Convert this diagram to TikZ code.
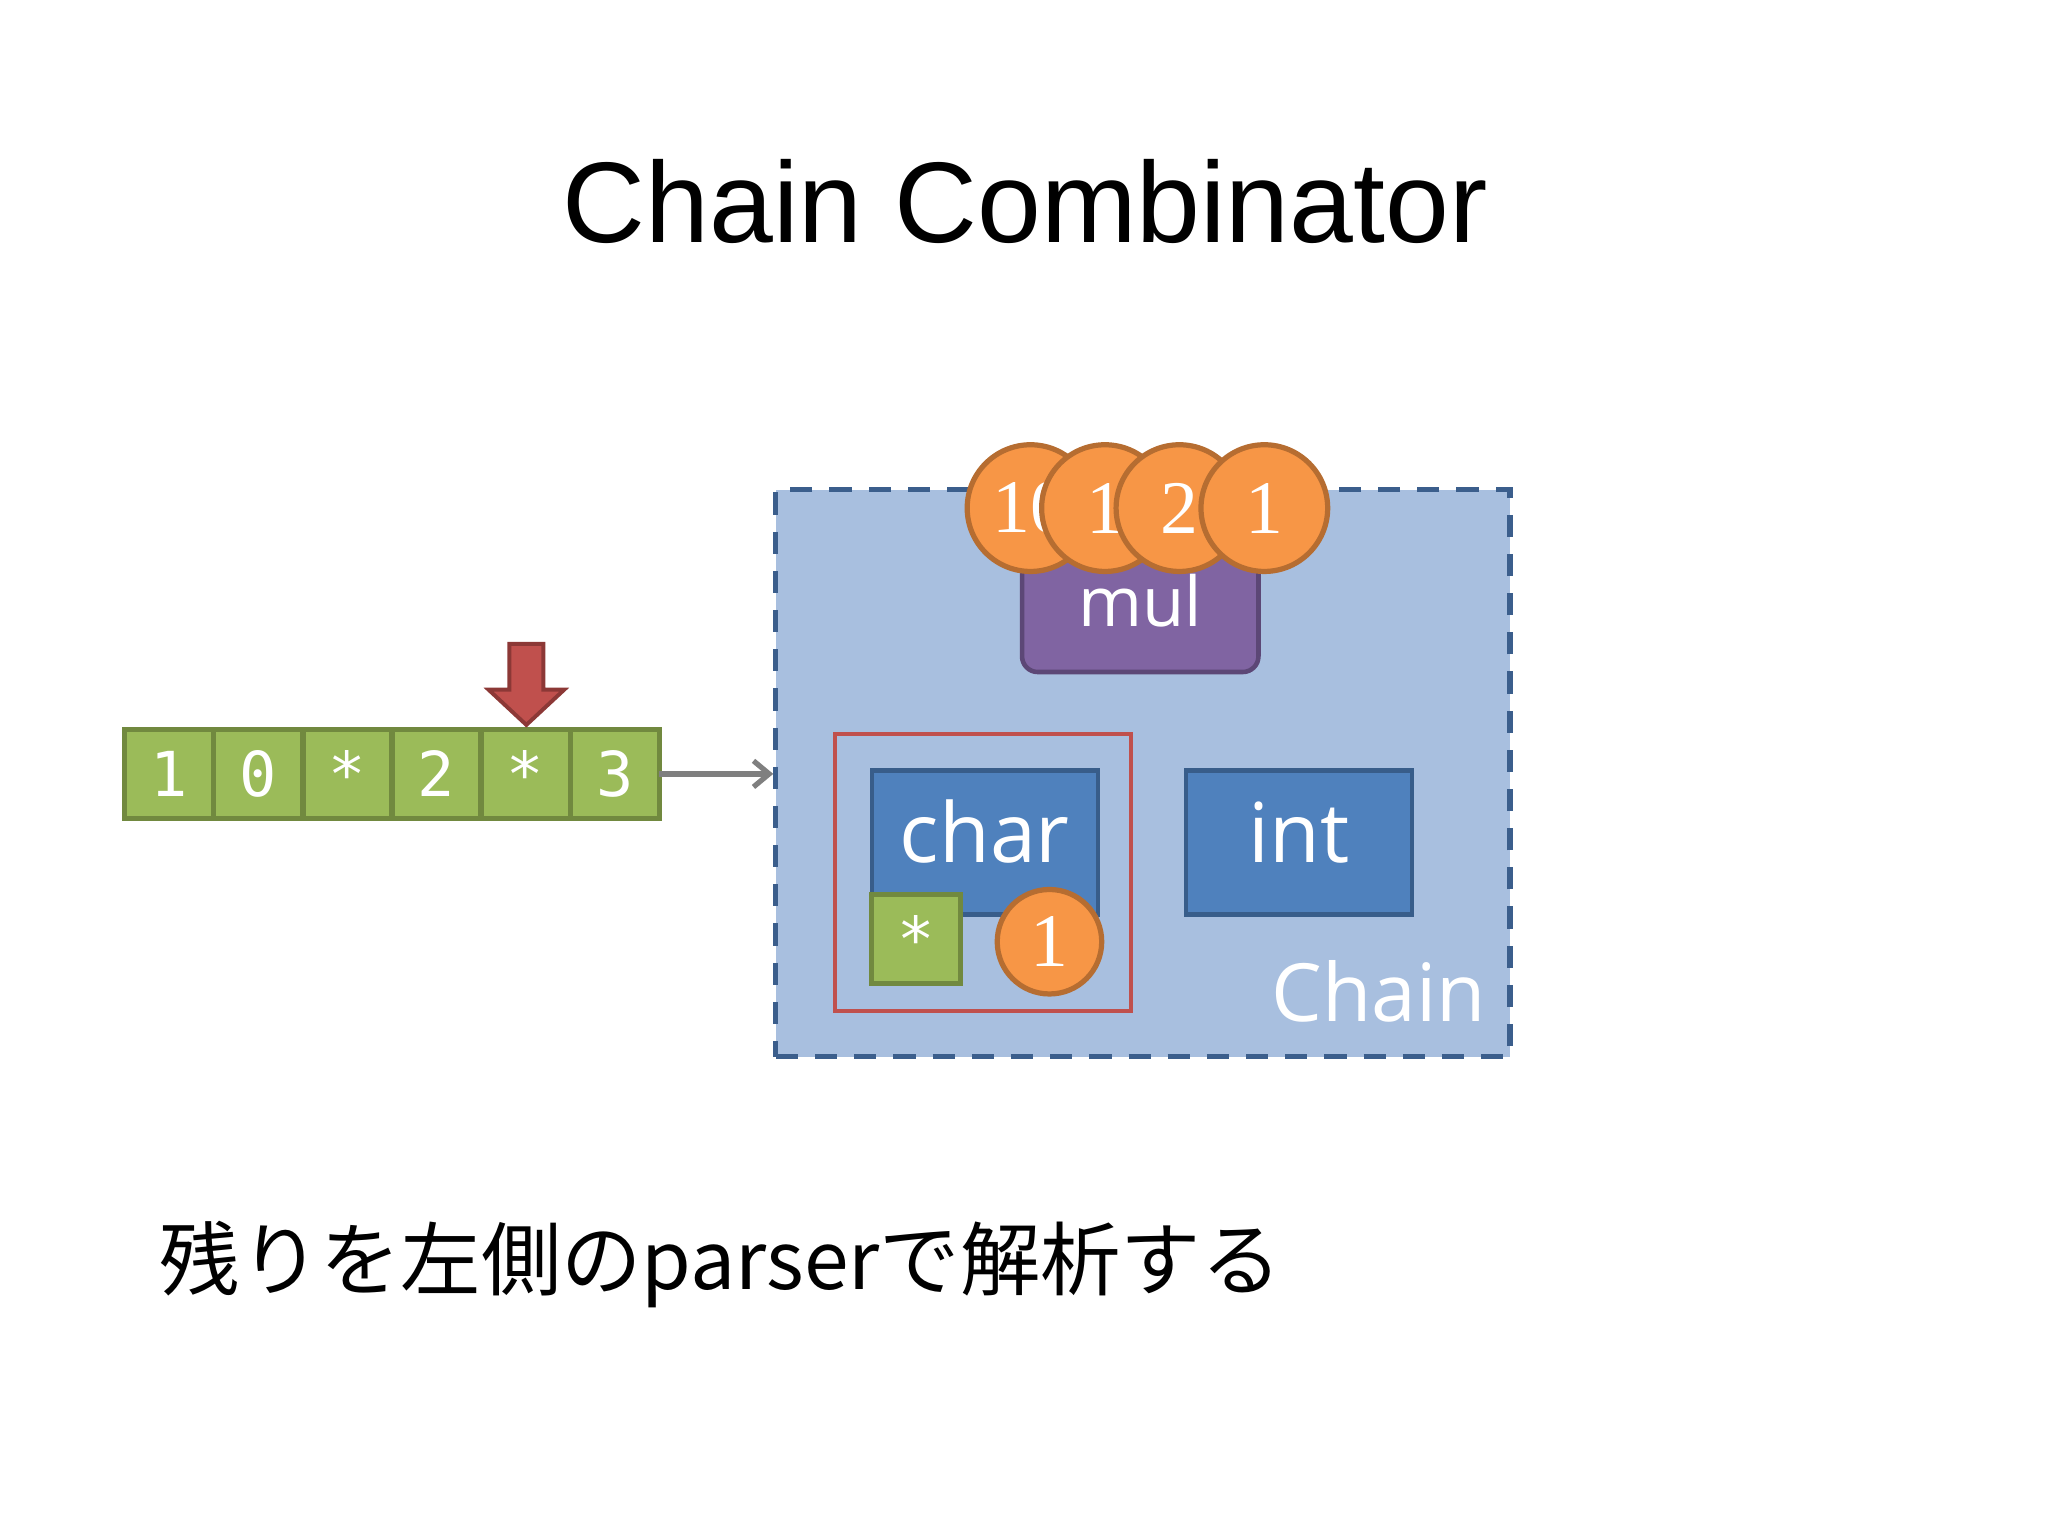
\documentclass[tikz,border=0pt]{standalone}
\usepackage{fontspec}
\usetikzlibrary{positioning,arrows.meta}
\newfontfamily\titlefont{Liberation Sans}
\newfontfamily\boxfont{Open Sans}
\newfontfamily\tapefont{DejaVu Sans Mono}
\newfontfamily\numfont{Liberation Serif}
\newfontfamily\jpfont{Noto Sans CJK JP}
\definecolor{cellgreen}{HTML}{9BBB59}
\definecolor{cellline}{HTML}{71893F}
\definecolor{boxblue}{HTML}{4F81BD}
\definecolor{boxline}{HTML}{385D8A}
\definecolor{chainfill}{HTML}{A8BFDF}
\definecolor{chainline}{HTML}{3B5E8C}
\definecolor{mulpurple}{HTML}{8064A2}
\definecolor{mulline}{HTML}{5C4776}
\definecolor{coinorange}{HTML}{F79646}
\definecolor{coinline}{HTML}{B66D31}
\definecolor{ptrred}{HTML}{C0504D}
\definecolor{ptrline}{HTML}{8C3836}
\definecolor{feedgray}{HTML}{7F7F7F}
\begin{document}
\begin{tikzpicture}[x=0.2mm,y=-0.2mm,
	cell/.style={draw=cellline,fill=cellgreen,line width=0.8mm,outer sep=0pt,inner sep=0pt,minimum width=13.64mm,minimum height=13.6mm,text=white,text height=6.8mm,text depth=0pt,font=\tapefont\fontsize{27}{30}\selectfont},
	parser/.style={draw=boxline,fill=boxblue,line width=0.7mm,minimum width=34.6mm,minimum height=22mm,text=white,text height=9.4mm,text depth=3.4mm,font=\boxfont\fontsize{36}{40}\selectfont},
	coin/.style={circle,draw=coinline,fill=coinorange,line width=0.8mm,inner sep=0pt,minimum size=19.4mm,text=white,font=\numfont\fontsize{33}{36}\selectfont}]
				\useasboundingbox (0,0) rectangle (1568,1176);
				\path (785,186) coordinate (T);
				\path (122,987) coordinate (J);
				\node[font=\titlefont\fontsize{50}{60}\selectfont,anchor=base] (title) at (T) {Chain Combinator};
				\node[draw=chainline,fill=chainfill,dashed,dash pattern=on 3.4mm off 2.6mm,line width=0.8mm,minimum width=112.4mm,minimum height=86.8mm] (chain) at (875,592) {};
				\node[draw=mulline,fill=mulpurple,rounded corners=2.4mm,line width=0.7mm,minimum width=36.2mm,minimum height=21.8mm,text=white,font=\boxfont\fontsize{30}{34}\selectfont] (mul) at (873,460) {mul};
				\node[coin] (acc1) at (789,389) {10};
				\node[coin] (acc2) at (846,389) {1};
				\node[coin] (acc3) at (903,389) {2};
				\node[coin] (acc4) at (968,389) {1};
				\node[draw=ptrred,line width=0.6mm,minimum width=45.4mm,minimum height=42.4mm] (focus) at (752.5,668) {};
				\node[parser] (char) at (754,645) {char};
				\node[parser] (int) at (994.5,645) {int};
				\node[cell,minimum width=13.6mm] (rest) at (701.5,719) {*};
				\node[coin,minimum size=16mm] (val) at (803.5,721) {1};
				\node[text=white,font=\boxfont\fontsize{35}{40}\selectfont,anchor=base east,inner sep=0pt] (name) at (1138,782) {Chain};
				\node[cell] (c1) at (129.6,592.5) {1};
				\node[cell,right=0pt of c1] (c2) {0};
				\node[cell,right=0pt of c2] (c3) {*};
				\node[cell,right=0pt of c3] (c4) {2};
				\node[cell,right=0pt of c4] (c5) {*};
				\node[cell,right=0pt of c5] (c6) {3};
				\draw[draw=ptrline,fill=ptrred,line width=0.6mm,line join=miter] (390,493) -- (416,493) -- (416,528) -- (432,528) -- (403,555) -- (374,528) -- (390,528) -- cycle;
				\draw[draw=feedgray,line width=0.8mm,-{Straight Barb[length=2.4mm,width=4mm]}] (c6.east) -- (c6.east -| chain.west);
				\node[font=\jpfont\fontsize{35}{42}\selectfont,anchor=base west,inner sep=0pt] (note) at (J) {残りを左側のparserで解析する};
\end{tikzpicture}
\end{document}
